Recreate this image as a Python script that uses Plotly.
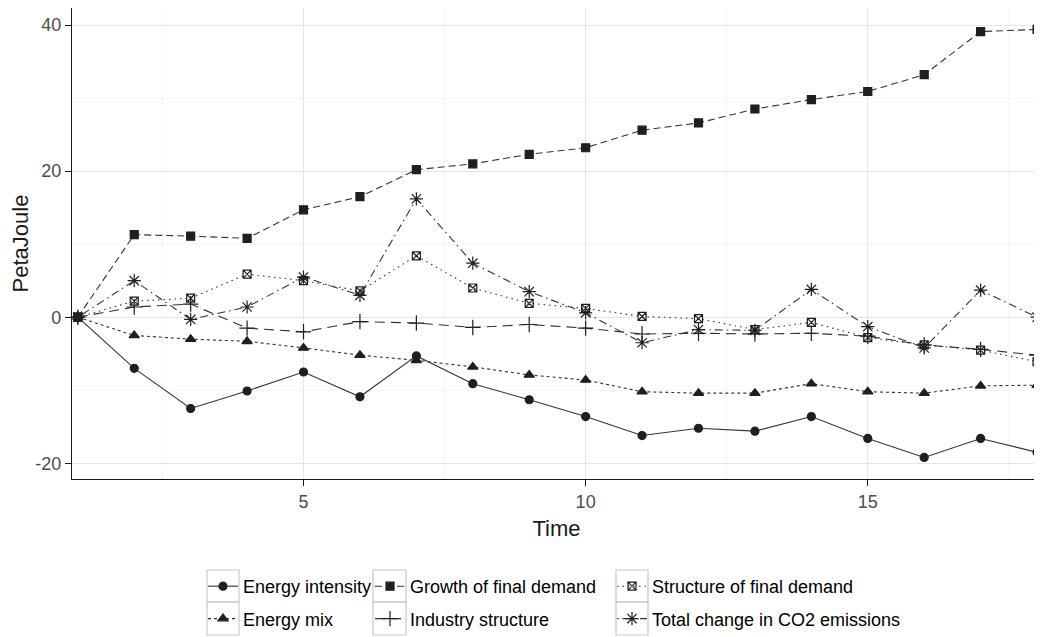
import plotly.graph_objects as go

time = list(range(1, 19))

energy_intensity = [0, -7.0, -12.5, -10.1, -7.5, -10.9, -5.3, -9.1, -11.3, -13.6, -16.2, -15.2, -15.6, -13.6, -16.6, -19.2, -16.6, -18.5]
energy_mix = [0, -2.5, -3.0, -3.3, -4.2, -5.2, -5.9, -6.8, -7.9, -8.6, -10.2, -10.4, -10.4, -9.1, -10.2, -10.4, -9.4, -9.3]
growth_final_demand = [0, 11.3, 11.1, 10.8, 14.7, 16.5, 20.2, 21.0, 22.3, 23.2, 25.6, 26.6, 28.5, 29.8, 30.9, 33.2, 39.1, 39.4]
industry_structure = [0, 1.4, 1.8, -1.5, -2.0, -0.6, -0.8, -1.4, -1.0, -1.5, -2.3, -2.2, -2.3, -2.2, -2.6, -3.8, -4.4, -5.2]
structure_final_demand = [0, 2.2, 2.6, 5.9, 5.0, 3.6, 8.4, 4.0, 1.9, 1.2, 0.1, -0.2, -1.7, -0.7, -2.8, -3.8, -4.5, -6.1]
total_change = [0, 5.0, -0.3, 1.4, 5.5, 3.0, 16.2, 7.4, 3.5, 0.6, -3.5, -1.7, -1.8, 3.8, -1.3, -4.2, 3.7, 0.0]

series = [
    ("Energy intensity", energy_intensity, "solid", "circle", 8, "legend"),
    ("Energy mix", energy_mix, "3px,3px", "triangle-up", 9, "legend"),
    ("Growth of final demand", growth_final_demand, "7px,4px", "square", 8, "legend2"),
    ("Industry structure", industry_structure, "10px,6px", "cross-thin-open", 11, "legend2"),
    ("Structure of final demand", structure_final_demand, "1.5px,4px", "square-x-open", 8, "legend3"),
    ("Total change in CO2 emissions", total_change, "1.5px,4px,8px,4px", "asterisk-open", 11, "legend3"),
]

ink = "#1f1f1f"
fig = go.Figure()
for name, vals, dash, sym, size, leg in series:
    fig.add_trace(go.Scatter(
        x=time, y=vals, name=name, mode="lines+markers",
        line=dict(color="#333333", width=1.1, dash=dash),
        marker=dict(symbol=sym, size=size, color=ink, line=dict(color=ink, width=1.2)),
        legend=leg, legendgroup=name, cliponaxis=False,
    ))

# The page body adds an 8px offset; figure coordinates = screen coordinates - 8
OFF = 8
FW, FH = 1042 - OFF, 637 - OFF
L, R, T, B = 72 - OFF, 1041 - OFF, 8 - OFF, 479 - OFF
W, H = R - L, B - T

def px(x):
    return (x - OFF - L) / W

def py(y):
    return (B - (y - OFF)) / H

legend_common = dict(
    orientation="v", xanchor="left", yanchor="top",
    font=dict(family="Liberation Sans, Arial, sans-serif", size=18, color="#000000"),
    bgcolor="rgba(0,0,0,0)", tracegroupgap=6, traceorder="grouped",
    itemclick=False, itemdoubleclick=False,
)

shapes = []
for x0, x1 in [(207, 239), (373, 406), (616, 648)]:
    for y0, y1 in [(570, 602), (602, 635)]:
        shapes.append(dict(type="rect", xref="paper", yref="paper",
                           x0=px(x0), x1=px(x1), y0=py(y1), y1=py(y0),
                           line=dict(color="#c8c8c8", width=1.2), fillcolor="rgba(0,0,0,0)", layer="above"))

fig.update_layout(
    width=FW, height=FH,
    margin=dict(l=L, r=FW - R, t=T, b=FH - B, autoexpand=False),
    paper_bgcolor="white", plot_bgcolor="white",
    font=dict(family="Liberation Sans, Arial, sans-serif"),
    showlegend=True,
    legend=dict(legend_common, x=px(203), y=py(568)),
    legend2=dict(legend_common, x=px(370), y=py(568)),
    legend3=dict(legend_common, x=px(612), y=py(568)),
    shapes=shapes,
)

fig.update_xaxes(
    range=[0.897, 18.07], tickvals=[5, 10, 15], ticktext=["5", "10", "15"],
    showgrid=True, gridcolor="#e6e6e6", gridwidth=1.2,
    minor=dict(tickvals=[2.5, 7.5, 12.5, 17.5], showgrid=True, gridcolor="#f5f5f5", gridwidth=1, ticklen=0),
    showline=True, linecolor="#1a1a1a", linewidth=1.2,
    ticks="outside", ticklen=6, tickcolor="#1a1a1a", tickwidth=1.2,
    tickfont=dict(size=18, color="#4d4d4d"),
    title=dict(text="Time", font=dict(size=22, color="#1a1a1a"), standoff=9),
    zeroline=False, automargin=False,
)
fig.update_yaxes(
    range=[-22.15, 42.33], tickvals=[-20, 0, 20, 40], ticktext=["-20", "0", "20", "40"],
    showgrid=True, gridcolor="#e6e6e6", gridwidth=1.2,
    minor=dict(tickvals=[-10, 10, 30], showgrid=True, gridcolor="#f5f5f5", gridwidth=1, ticklen=0),
    showline=True, linecolor="#1a1a1a", linewidth=1.2,
    ticks="outside", ticklen=6, tickcolor="#1a1a1a", tickwidth=1.2,
    tickfont=dict(size=18, color="#4d4d4d"),
    title=dict(text="PetaJoule", font=dict(size=22, color="#1a1a1a"), standoff=0),
    zeroline=False, automargin=False,
)

fig.write_html("out.html")
